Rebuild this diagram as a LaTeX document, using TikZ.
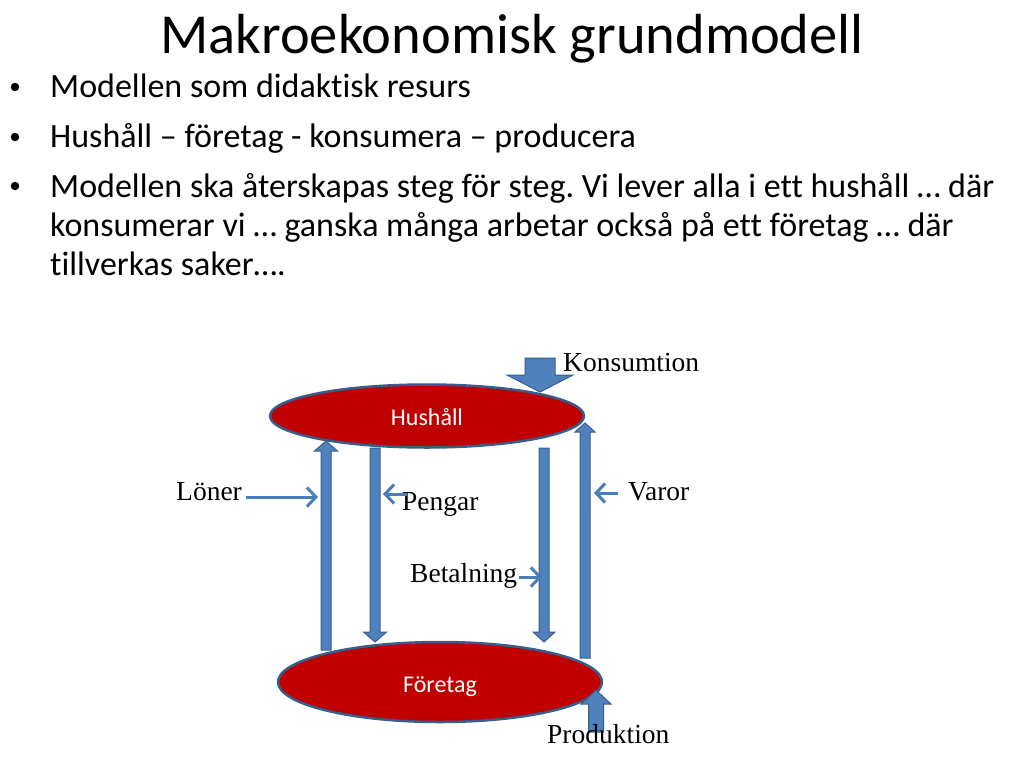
\documentclass[tikz,border=0pt]{standalone}
\usepackage{fontspec}
\setmainfont{Liberation Serif}
\newfontfamily\calibri[Ligatures=NoCommon]{Carlito}
\usetikzlibrary{calc,arrows.meta,shapes.geometric}
\frenchspacing

\definecolor{sektor}{HTML}{C00000}
\definecolor{kant}{HTML}{385D8A}
\definecolor{flode}{HTML}{4F81BD}
\definecolor{pil}{HTML}{4A7EBB}

% block arrow: tail, tip, shaft half width, head half width, head length
\newcommand\blockpil[5]{%
  \coordinate (bp-h) at ($(#2)!#5!(#1)$);
  \draw[blockstyle] ($(#1)!#3!90:(#2)$) -- ($(bp-h)!#3!90:(#2)$) -- ($(bp-h)!#4!90:(#2)$)
    -- (#2) -- ($(bp-h)!#4!-90:(#2)$) -- ($(bp-h)!#3!-90:(#2)$) -- ($(#1)!#3!-90:(#2)$) -- cycle;
}

\begin{document}
\begin{tikzpicture}[x=1pt,y=-1pt,
  sektorstyle/.style={ellipse, fill=sektor, draw=kant, line width=2.5pt, inner sep=0pt},
  namn/.style={text=white, anchor=base, inner sep=0pt, font=\calibri\fontsize{24}{28}\selectfont},
  blockstyle/.style={fill=flode, draw=kant, line width=1pt, line join=miter},
  flow/.style={pil, line width=3pt, -{Straight Barb[length=9pt,width=19pt,line width=3pt]}},
  etikett/.style={anchor=base west, inner sep=0pt, font=\fontsize{27.5}{32}\selectfont},
  punkt/.style={anchor=base west, inner sep=0pt, font=\calibri\fontsize{34}{40}\selectfont}]
	\useasboundingbox (0,0) rectangle (1024,768);

	% title and bullets
	\node (titel) [anchor=base, inner sep=0pt, font=\calibri\fontsize{56.5}{64}\selectfont] at (512,53) {Makroekonomisk grundmodell};
	\foreach \y in {87,137,186}
		\node [circle, fill, inner sep=0pt, minimum size=8.5pt] at (15,\y) {};
	\node (rad1) [punkt] at (50,97) {Modellen som didaktisk resurs};
	\node (rad2) [punkt] at (50,147) {Hushåll – företag - konsumera – producera};
	\node (rad3) [punkt] at (50,197) {Modellen ska återskapas steg för steg. Vi lever alla i ett hushåll … där};
	\node (rad4) [punkt] at (50,236) {konsumerar vi … ganska många arbetar också på ett företag … där};
	\node (rad5) [punkt] at (50,275) {tillverkas saker….};

	% sectors
	\node (hus) [sektorstyle, minimum width=314pt, minimum height=63pt] at (427,416) {};
	\node [namn] at (427,425) {Hushåll};
	\node (for) [sektorstyle, minimum width=324pt, minimum height=80pt] at (440,682) {};
	\node [namn] at (440,692) {Företag};

	% flows between the sectors
	\coordinate (lonA) at (326,650);  \coordinate (lonB) at (326,441);
	\coordinate (penA) at (375,448);  \coordinate (penB) at (375,642);
	\coordinate (betA) at (544,448);  \coordinate (betB) at (544,642);
	\coordinate (varA) at (585,658);  \coordinate (varB) at (585,423);
	\coordinate (konA) at (540,358);  \coordinate (konB) at (540,392);
	\coordinate (proA) at (596,732);  \coordinate (proB) at (596,690);
	\blockpil{lonA}{lonB}{5pt}{11.5pt}{10pt}
	\blockpil{penA}{penB}{5pt}{11.5pt}{10pt}
	\blockpil{betA}{betB}{5pt}{11pt}{10pt}
	\blockpil{varA}{varB}{5pt}{10pt}{9pt}
	\blockpil{konA}{konB}{15pt}{33pt}{17pt}
	\blockpil{proA}{proB}{7.5pt}{15pt}{14pt}

	% labels
	\node (loner) [etikett] at (176,500) {Löner};
	\node (pengar) [etikett] at (402,510) {Pengar};
	\node (varor) [etikett] at (628,500) {Varor};
	\node (betalning) [etikett] at (410,582) {Betalning};
	\node (konsumtion) [etikett] at (563,371) {Konsumtion};
	\node (produktion) [etikett] at (547,743) {Produktion};

	\coordinate (lonS) at (246,497);  \coordinate (lonP) at (318,497);
	\coordinate (penS) at (407,494);  \coordinate (penP) at (383,494);
	\coordinate (varS) at (618,493);  \coordinate (varP) at (594,493);
	\coordinate (betS) at (519,577);  \coordinate (betP) at (542,577);
	\draw[flow] (lonS) -- (lonP);
	\draw[flow] (penS) -- (penP);
	\draw[flow] (varS) -- (varP);
	\draw[flow] (betS) -- (betP);
\end{tikzpicture}
\end{document}
